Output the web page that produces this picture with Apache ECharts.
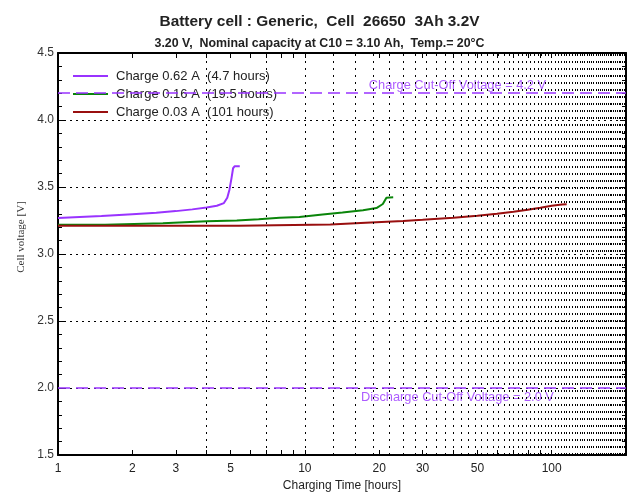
<!DOCTYPE html>
<html><head><meta charset="utf-8">
<script src="https://cdn.jsdelivr.net/npm/echarts@6/dist/echarts.min.js"></script>
<style>html,body{margin:0;padding:0;background:#fff}#c{width:639px;height:494px}</style>
</head><body><div id="c"></div>
<script>
const titleText = 'Battery cell : Generic,  Cell  26650  3Ah 3.2V';
const subtitleText = '3.20 V,  Nominal capacity at C10 = 3.10 Ah,  Temp.= 20°C';
const seriesNames = ['Charge 0.62 A  (4.7 hours)', 'Charge 0.16 A  (19.5 hours)', 'Charge 0.03 A  (101 hours)'];
const seriesColors = ['#9933ff', '#0a850a', '#990f0f'];

const hoursA = [1, 1.5, 2, 2.5, 3, 3.5, 4, 4.4, 4.7, 4.85, 4.95, 5.05, 5.12, 5.2, 5.45];
const voltsA = [3.268, 3.283, 3.297, 3.308, 3.32, 3.333, 3.347, 3.36, 3.38, 3.42, 3.48, 3.57, 3.64, 3.655, 3.655];

const hoursB = [1, 1.55, 1.56, 2.66, 2.67, 4.0, 5.3, 6.5, 7.9, 9.5, 11.8, 14.2, 17.2, 19.5, 20.7, 21.4, 22.8];
const voltsB = [3.218, 3.218, 3.23, 3.23, 3.237, 3.245, 3.25, 3.26, 3.27, 3.277, 3.295, 3.31, 3.326, 3.343, 3.373, 3.42, 3.423];

const hoursC = [1, 5.4, 5.5, 12.7, 12.8, 18.5, 18.7, 25, 30, 40, 50, 60, 70, 80, 90, 100, 110, 115];
const voltsC = [3.21, 3.21, 3.219, 3.22, 3.232, 3.235, 3.243, 3.247, 3.255, 3.27, 3.285, 3.3, 3.315, 3.33, 3.345, 3.36, 3.37, 3.372];

const xLabelValues = [1, 2, 3, 5, 10, 20, 30, 50, 100];
const xTickValues = [1, 2, 3, 4, 5, 6, 7, 8, 9, 10, 20, 30, 40, 50, 60, 70, 80, 90, 100, 200];
const gridStepHours = 3;
const cutoffVolts = [4.2, 2.0];
const cutoffLabels = ['Charge Cut-Off Voltage = 4.2 V', 'Discharge Cut-Off Voltage = 2.0 V'];
const cutoffLabelHour = 41.5;

const gridHours = [];
for (let h = 1 + gridStepHours; h < 200; h += gridStepHours) gridHours.push(h);

const pair = (xs, ys) => xs.map((x, i) => [x, ys[i]]);
const FONT = 'Liberation Sans, Arial, sans-serif';

const chart = echarts.init(document.getElementById('c'), null, {renderer: 'canvas'});

const xCommon = {
  type: 'log', logBase: 10, min: 1, max: 200,
  axisLine: {show: true, onZero: false, lineStyle: {color: '#000', width: 2}},
  axisTick: {show: true, inside: true, length: 5, customValues: xTickValues, lineStyle: {color: '#000', width: 1}},
  splitLine: {show: false}, minorTick: {show: false}
};
const yCommon = {
  type: 'value', min: 1.5, max: 4.5, interval: 0.5,
  axisLine: {show: true, onZero: false, lineStyle: {color: '#000', width: 2}},
  axisTick: {show: true, inside: true, length: 6, lineStyle: {color: '#000', width: 1}},
  minorTick: {show: true, splitNumber: 5, length: 4, lineStyle: {color: '#000', width: 1}},
  minorSplitLine: {show: false}
};

chart.setOption({
  animation: false,
  backgroundColor: '#fff',
  title: [
    {text: titleText, left: 'center', top: 9, textStyle: {fontFamily: FONT, fontSize: 15.4, fontWeight: 'bold', color: '#222'}},
    {text: subtitleText, left: 'center', top: 33, textStyle: {fontFamily: FONT, fontSize: 12.4, fontWeight: 'bold', color: '#222'}}
  ],
  grid: {left: 58, right: 13, top: 53, bottom: 39, containLabel: false, outerBoundsMode: 'none'},
  legend: {
    data: seriesNames, orient: 'vertical', left: 73, top: 69, padding: 0, icon: 'rect',
    itemWidth: 35, itemHeight: 2, itemGap: 4,
    textStyle: {fontFamily: FONT, fontSize: 13, color: '#222', lineHeight: 14, padding: [0, 0, 0, 3]}
  },
  xAxis: [
    Object.assign({}, xCommon, {
      position: 'bottom',
      axisLabel: {show: true, customValues: xLabelValues, color: '#222', fontFamily: FONT, fontSize: 12, margin: 8},
      name: 'Charging Time [hours]', nameLocation: 'middle', nameGap: 25,
      nameTextStyle: {fontFamily: FONT, fontSize: 12, color: '#222'}
    }),
    Object.assign({}, xCommon, {position: 'top', axisLabel: {show: false}})
  ],
  yAxis: [
    Object.assign({}, yCommon, {
      position: 'left',
      axisLabel: {show: true, color: '#333', fontFamily: FONT, fontSize: 12, margin: 4, formatter: v => v.toFixed(1)},
      splitLine: {show: true, lineStyle: {color: '#000', type: [2, 4], width: 1}},
      name: 'Cell voltage [V]', nameLocation: 'middle', nameGap: 31,
      nameTextStyle: {fontFamily: 'Liberation Serif, DejaVu Serif, serif', fontSize: 11, color: '#333', padding: [0, 0, 0, 34]}
    }),
    Object.assign({}, yCommon, {position: 'right', axisLabel: {show: false}, splitLine: {show: false}})
  ],
  series: [
    {
      name: 'grid', type: 'line', data: [], silent: true,
      markLine: {
        silent: true, symbol: ['none', 'none'], label: {show: false}, animation: false,
        lineStyle: {color: '#000', type: [2, 5], width: 1},
        data: gridHours.map(h => ({xAxis: h}))
      }
    },
    {
      name: 'cutoff', type: 'line', data: [], silent: true,
      markLine: {
        silent: true, symbol: ['none', 'none'], label: {show: false}, animation: false,
        lineStyle: {color: '#9933ff', type: [12, 6], width: 1.5},
        data: cutoffVolts.map(v => ({yAxis: v}))
      }
    },
    {
      name: 'cutoffLabels', type: 'scatter', symbolSize: 0, silent: true,
      data: cutoffVolts.map((v, i) => ({
        value: [cutoffLabelHour, v],
        label: {show: true, position: i === 0 ? 'top' : 'bottom', distance: i === 0 ? 1 : 3, formatter: cutoffLabels[i],
          color: '#9933ff', fontFamily: FONT, fontSize: 12.8}
      }))
    },
    {name: seriesNames[0], type: 'line', data: pair(hoursA, voltsA), showSymbol: false, color: seriesColors[0], lineStyle: {width: 2}},
    {name: seriesNames[1], type: 'line', data: pair(hoursB, voltsB), showSymbol: false, color: seriesColors[1], lineStyle: {width: 2}},
    {name: seriesNames[2], type: 'line', data: pair(hoursC, voltsC), showSymbol: false, color: seriesColors[2], lineStyle: {width: 2}}
  ]
});
</script>
</body></html>
